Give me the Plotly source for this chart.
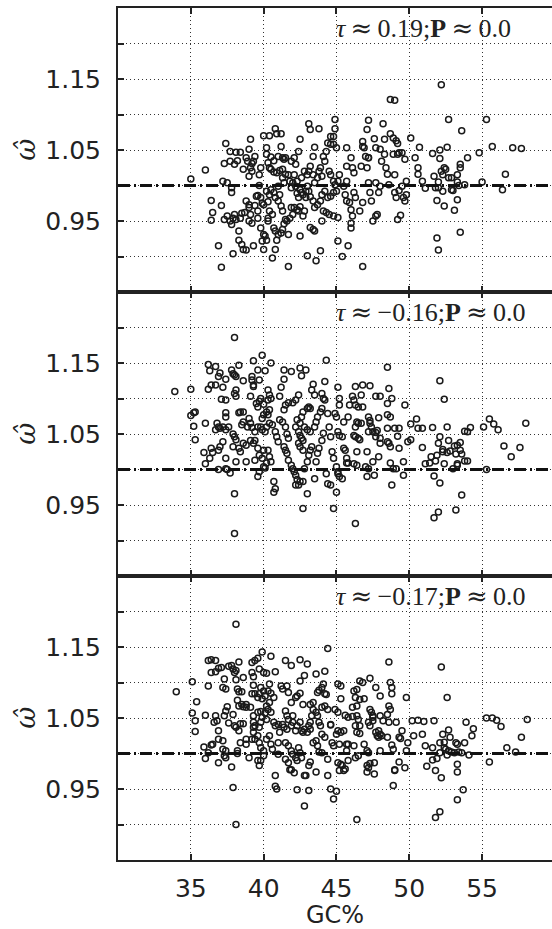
import plotly.graph_objects as go
from plotly.subplots import make_subplots

# (GC%, omega-hat) readings for each panel
panel1 = [(35.0,1.009),(36.0,1.022),(36.4,0.979),(36.5,0.962),(36.4,0.951),(37.1,0.972),(36.9,0.915),(37.1,0.885),(37.2,1.006),(37.4,1.059),
(37.3,1.031),(37.7,1.048),(37.5,1.004),(37.8,0.997),(37.8,0.990),(37.3,0.952),(37.5,0.957),(37.7,0.950),(37.9,0.954),(38.0,0.959),
(37.8,0.945),(38.1,0.952),(38.4,0.954),(37.9,0.904),(38.3,0.936),(38.3,0.923),(38.5,0.917),(38.6,0.910),(38.8,0.909),(38.5,0.961),
(38.7,0.962),(38.8,0.978),(39.0,0.973),(39.0,0.969),(39.1,0.959),(39.0,0.950),(39.2,0.947),(39.0,1.013),(38.2,1.035),(38.0,1.030),
(37.7,1.034),(38.1,1.047),(38.4,1.047),(38.6,1.023),(38.8,1.039),(38.9,1.034),(39.1,1.065),(39.0,1.051),(39.1,1.025),(39.2,1.020),
(39.2,1.031),(39.3,1.034),(39.3,0.915),(39.4,1.041),(39.4,0.972),(39.5,0.985),(39.6,0.964),(39.7,1.015),(39.7,1.000),(39.8,1.025),
(39.6,0.954),(39.8,0.940),(39.9,0.922),(40.0,0.931),(40.1,0.929),(40.0,0.910),(40.2,0.923),(40.3,0.950),(40.3,0.954),(40.4,0.964),
(40.6,0.959),(40.6,0.898),(40.8,0.910),(40.9,0.923),(40.8,0.936),(40.7,0.940),(41.0,0.931),(41.2,0.933),(41.3,0.938),(41.4,0.946),
(41.7,0.886),(41.7,0.931),(41.5,0.952),(41.6,0.950),(41.8,0.954),(42.0,0.959),(41.9,0.969),(41.3,0.964),(41.2,0.971),(41.0,0.978),
(41.1,0.987),(41.0,0.999),(40.8,0.983),(40.7,0.990),(40.5,0.994),(40.4,0.987),(40.2,0.992),(40.3,0.977),(40.0,0.973),(39.9,0.975),
(39.8,0.983),(39.6,0.986),(40.0,1.070),(40.4,1.070),(40.5,1.040),(40.7,1.035),(40.8,1.080),(40.9,1.073),(41.2,1.073),(41.2,1.055),
(41.0,1.041),(41.3,1.039),(41.4,1.037),(41.5,1.039),(40.3,1.032),(40.2,1.044),(40.2,1.053),(40.4,1.025),(40.5,1.023),(40.7,1.019),
(40.9,1.018),(41.1,1.021),(41.3,1.023),(41.3,1.011),(41.4,1.004),(41.5,1.016),(41.7,1.015),(41.8,1.006),(41.9,0.997),(42.0,1.004),
(42.2,0.999),(42.3,0.989),(42.4,0.983),(42.5,0.994),(42.6,0.990),(42.7,0.987),(42.9,0.992),(43.0,0.999),(42.1,0.969),(42.3,0.966),
(42.4,0.964),(42.5,0.970),(42.7,0.957),(42.8,0.964),(42.5,0.929),(43.0,0.901),(43.2,0.941),(43.4,0.938),(43.5,0.936),(43.6,0.894),
(43.9,0.908),(44.0,0.950),(44.1,0.964),(44.3,0.962),(44.5,0.959),(44.8,0.957),(45.1,0.955),(45.1,0.922),(45.4,0.900),(45.8,0.915),
(43.1,1.087),(43.2,1.079),(43.8,1.080),(43.5,1.054),(43.4,1.041),(43.2,1.027),(43.1,1.020),(43.0,1.015),(42.8,1.020),(42.6,1.011),
(42.5,1.065),(42.4,1.048),(42.2,1.030),(42.1,1.039),(41.9,1.034),(42.1,1.015),(42.3,1.006),(43.4,1.015),(43.5,1.004),(43.7,1.011),
(43.8,1.020),(43.9,1.025),(44.0,1.013),(44.1,1.041),(44.2,1.034),(44.3,1.048),(44.4,1.060),(44.6,1.069),(44.8,1.069),(44.9,1.093),
(44.9,1.080),(44.6,1.058),(44.8,1.058),(45.0,1.053),(44.5,1.020),(44.6,1.015),(44.8,1.006),(44.9,1.001),(45.0,0.992),(44.8,0.990),
(44.6,0.985),(44.4,0.983),(44.2,0.992),(44.0,0.987),(43.9,0.978),(43.7,0.973),(43.5,0.969),(43.4,0.978),(43.2,0.984),(43.1,0.992),
(42.9,0.983),(45.1,1.006),(45.2,1.015),(45.5,0.999),(45.6,0.987),(45.7,1.006),(45.7,0.978),(45.9,0.976),(46.0,0.966),(46.0,0.947),
(46.1,0.957),(46.0,0.940),(45.7,1.053),(46.0,1.039),(45.7,1.027),(46.1,1.025),(46.2,1.018),(46.2,0.990),(46.3,0.983),(46.6,0.964),
(46.8,0.976),(46.8,0.886),(46.8,1.062),(46.8,1.055),(46.9,1.053),(47.0,1.041),(47.2,1.039),(47.1,1.079),(47.2,1.092),(47.2,1.039),
(46.7,1.027),(47.1,1.025),(47.2,1.004),(47.3,0.990),(47.4,0.978),(47.5,0.950),(47.7,0.957),(47.8,0.959),(47.9,0.990),(48.0,0.999),
(47.6,1.066),(47.7,1.053),(47.7,1.004),(48.0,1.051),(48.1,1.034),(48.2,1.087),(48.3,1.065),(48.3,1.044),(48.4,1.025),(48.5,1.016),
(48.6,1.001),(48.7,1.121),(49.0,1.120),(48.7,1.073),(48.9,1.067),(49.1,1.063),(49.2,1.059),(49.3,1.046),(49.5,1.046),(49.2,1.044),
(48.9,1.044),(49.0,1.015),(49.0,0.990),(49.1,0.983),(49.3,0.993),(49.5,0.999),(49.6,0.983),(49.7,0.978),(49.8,0.987),(49.2,0.952),
(49.4,0.958),(49.7,1.037),(50.1,1.067),(49.8,1.006),(50.4,1.039),(50.6,1.025),(50.7,1.054),(50.6,1.016),(50.9,1.006),(51.1,0.996),
(51.6,1.045),(51.7,1.013),(51.8,0.997),(51.9,0.979),(52.0,1.005),(52.0,0.997),(52.1,1.050),(52.1,1.038),(52.2,1.142),(52.2,1.020),
(52.3,1.015),(52.3,0.992),(52.4,0.971),(52.4,1.025),(52.5,1.023),(52.6,1.054),(52.7,1.093),(52.7,1.011),(52.9,1.011),(52.9,0.994),
(53.0,0.993),(53.1,0.965),(53.3,0.980),(53.3,1.005),(53.3,1.015),(53.4,1.000),(53.5,1.025),(53.5,1.030),(53.6,1.077),(53.5,0.934),
(51.9,0.926),(52.0,0.909),(53.8,1.001),(54.0,1.039),(54.8,1.046),(55.0,1.005),(55.3,1.093),(55.7,1.055),(56.4,0.994),(56.6,1.016),
(57.1,1.053),(57.7,1.052)]

panel2 = [(33.9,1.110),(35.0,1.113),(35.0,1.076),(35.2,1.080),(35.3,1.081),(35.2,1.061),(35.3,1.042),(35.9,1.024),(36.0,1.008),(36.0,1.065),
(36.2,1.148),(36.3,1.139),(36.7,1.145),(37.0,1.136),(36.9,1.131),(36.7,1.119),(36.4,1.119),(36.2,1.113),(36.4,1.030),(36.5,1.024),
(36.3,1.016),(36.9,1.000),(36.8,1.065),(36.7,1.056),(36.9,1.060),(37.0,1.058),(37.2,1.060),(37.2,1.116),(37.1,1.099),(37.4,1.098),
(37.4,1.127),(37.4,1.080),(37.4,1.074),(37.6,1.060),(37.4,1.056),(37.2,1.039),(37.0,1.032),(36.9,1.027),(37.4,1.016),(37.4,1.001),
(37.5,1.000),(37.7,0.995),(37.8,1.140),(37.9,1.135),(38.0,1.133),(38.1,1.131),(38.3,1.147),(38.0,1.186),(38.1,1.112),(38.0,1.107),
(38.1,1.103),(38.3,1.080),(38.4,1.081),(38.6,1.125),(38.6,1.081),(38.5,1.063),(38.6,1.067),(37.9,1.050),(38.0,1.046),(38.1,1.042),
(37.9,1.032),(38.3,1.030),(38.4,1.025),(38.1,1.011),(38.0,0.966),(38.0,0.910),(38.6,1.037),(38.8,1.034),(38.8,1.011),(38.9,1.060),
(39.0,1.072),(39.1,1.103),(39.2,1.131),(39.2,1.126),(39.3,1.119),(39.3,1.117),(39.3,1.153),(39.6,1.140),(39.7,1.126),(39.8,1.100),
(39.7,1.096),(39.5,1.093),(39.6,1.088),(39.9,1.161),(40.1,1.139),(40.5,1.150),(40.3,1.112),(40.4,1.105),(40.5,1.100),(40.3,1.098),
(40.0,1.092),(40.2,1.081),(39.9,1.072),(40.0,1.077),(40.4,1.084),(40.3,1.077),(39.1,1.065),(39.2,1.059),(39.4,1.053),(39.6,1.060),
(39.8,1.060),(39.9,1.056),(40.1,1.053),(40.2,1.060),(40.4,1.065),(40.6,1.063),(39.1,1.041),(39.3,1.037),(39.4,1.041),(39.6,1.030),
(39.7,1.020),(39.9,1.016),(40.0,1.027),(40.3,1.027),(40.4,1.018),(40.5,1.011),(39.4,1.013),(39.6,0.990),(39.7,0.997),(40.0,1.004),
(40.1,1.002),(40.2,1.009),(40.7,0.983),(40.8,0.973),(40.7,0.968),(40.8,1.053),(40.9,1.046),(41.0,1.039),(41.1,1.070),(41.3,1.067),
(41.2,1.116),(41.4,1.127),(41.4,1.140),(41.1,1.103),(41.4,1.084),(41.5,1.091),(41.7,1.094),(41.9,1.138),(42.0,1.094),(42.2,1.098),
(42.4,1.105),(42.5,1.143),(42.6,1.132),(42.9,1.140),(42.7,1.081),(43.0,1.086),(43.1,1.088),(43.2,1.086),(43.3,1.112),(43.4,1.120),
(43.5,1.105),(41.5,1.060),(41.6,1.050),(41.7,1.044),(41.4,1.032),(41.5,1.027),(41.6,1.023),(41.7,1.013),(41.9,1.006),(42.0,1.001),
(42.1,0.997),(42.2,0.992),(42.3,0.986),(42.4,0.978),(42.2,0.978),(42.5,0.983),(42.7,0.983),(42.8,1.001),(43.0,1.011),(43.1,1.020),
(43.2,1.027),(43.3,1.032),(42.7,0.945),(43.0,0.966),(43.5,0.987),(43.6,1.011),(43.7,1.023),(43.8,1.030),(42.2,1.060),(42.4,1.053),
(42.5,1.048),(42.6,1.044),(42.7,1.041),(42.4,1.037),(42.5,1.032),(42.7,1.027),(42.3,1.070),(42.5,1.065),(42.6,1.074),(42.8,1.060),
(43.0,1.056),(43.2,1.053),(43.5,1.060),(43.6,1.067),(43.7,1.074),(43.9,1.081),(44.0,1.086),(44.1,1.100),(44.2,1.098),(44.0,1.107),
(44.3,1.154),(44.2,1.124),(44.4,1.079),(44.5,1.060),(44.6,1.046),(44.1,1.051),(44.0,1.041),(44.7,1.025),(44.8,1.016),(45.0,1.004),
(45.1,0.997),(45.1,0.994),(45.2,0.990),(45.4,0.987),(44.3,0.994),(44.4,0.980),(44.6,0.978),(44.8,0.945),(45.0,0.968),(44.9,1.079),
(45.0,1.074),(45.1,1.116),(45.2,1.100),(45.2,1.091),(45.1,1.053),(45.2,1.048),(45.4,1.046),(45.5,1.067),(45.5,1.030),(45.6,1.027),
(45.7,1.016),(45.8,1.074),(45.9,1.091),(46.1,1.103),(46.2,1.098),(46.3,1.117),(46.3,1.091),(46.5,1.088),(46.8,1.119),(46.7,1.105),
(46.8,1.088),(45.8,1.009),(45.7,1.009),(46.2,1.048),(46.3,1.060),(46.3,1.046),(46.4,1.067),(46.5,1.065),(46.7,1.065),(46.2,1.008),
(46.4,1.006),(46.4,1.025),(46.5,1.044),(46.6,1.042),(46.3,0.924),(47.0,1.004),(47.1,0.990),(47.2,1.001),(47.1,1.025),(47.3,1.118),
(47.2,1.074),(47.3,1.069),(47.3,1.065),(47.4,1.060),(47.2,1.053),(47.5,1.053),(47.7,1.046),(47.7,1.052),(47.8,1.055),(47.9,1.073),
(47.5,1.011),(47.9,1.018),(47.6,0.992),(47.7,1.103),(48.0,1.103),(48.0,1.037),(48.0,1.044),(48.5,1.144),(48.5,1.093),(48.5,1.077),
(48.6,1.114),(48.8,1.100),(48.7,1.074),(48.5,1.058),(48.5,1.039),(48.6,1.037),(48.7,1.032),(48.7,1.009),(48.9,1.001),(49.1,1.001),
(48.8,0.978),(49.0,1.058),(49.2,1.047),(49.3,1.030),(49.3,1.058),(49.6,1.011),(49.6,0.992),(49.7,1.091),(49.9,1.039),(50.1,1.042),
(50.1,1.064),(50.5,1.071),(50.6,1.058),(50.9,1.031),(50.9,1.058),(51.1,1.008),(51.4,1.009),(51.5,1.018),(51.6,1.059),(51.7,0.932),
(51.7,0.991),(51.8,1.012),(51.9,1.020),(52.0,1.037),(52.0,0.940),(52.1,0.981),(52.1,1.125),(52.1,1.046),(52.3,1.028),(52.3,1.025),
(52.4,1.099),(52.4,1.008),(52.6,1.060),(52.6,1.024),(52.7,1.041),(52.8,1.026),(53.0,1.001),(53.1,1.033),(53.2,0.943),(53.2,1.022),
(53.3,1.008),(53.3,1.034),(53.3,1.006),(53.5,1.038),(53.5,1.027),(53.6,0.964),(53.6,1.022),(53.8,1.054),(53.8,1.012),(54.0,1.012),
(54.0,1.053),(54.2,1.059),(55.1,1.060),(55.3,1.000),(55.5,1.071),(55.8,1.064),(56.1,1.056),(56.5,1.033),(57.0,1.018),(57.6,1.031),
(58.0,1.065)]

panel3 = [(34.0,1.087),(35.1,1.101),(35.4,1.073),(35.1,1.057),(35.3,1.046),(35.3,1.031),(36.0,1.054),(35.9,1.009),(36.0,0.993),(36.2,1.131),
(36.4,1.132),(36.7,1.131),(36.4,1.114),(36.7,1.115),(36.9,1.120),(37.1,1.121),(36.2,1.095),(36.4,1.012),(36.5,1.013),(36.2,1.001),
(36.7,1.053),(36.6,1.044),(36.8,1.046),(36.9,1.032),(36.9,1.020),(36.9,0.987),(37.2,1.093),(37.4,1.091),(37.3,1.105),(37.4,1.060),
(37.5,1.066),(37.3,1.053),(37.6,1.043),(37.2,1.018),(37.2,1.006),(37.4,1.004),(37.4,0.994),(37.3,0.997),(37.8,0.981),(37.6,1.123),
(37.8,1.124),(37.9,1.119),(38.0,1.114),(38.1,1.117),(38.3,1.129),(38.1,1.182),(38.1,1.104),(38.2,1.091),(38.3,1.087),(38.5,1.087),
(38.6,1.107),(37.9,1.055),(38.0,1.039),(38.1,1.037),(38.3,1.032),(38.4,1.042),(38.6,1.042),(38.2,1.075),(38.3,1.067),(38.5,1.069),
(38.6,1.066),(38.8,1.065),(38.8,1.069),(39.1,1.065),(38.8,1.020),(38.8,1.013),(38.4,1.015),(38.2,1.004),(38.2,1.000),(39.0,0.994),
(37.9,0.952),(38.1,0.900),(39.2,1.114),(39.3,1.108),(39.2,1.128),(39.4,1.131),(39.6,1.134),(39.7,1.119),(39.9,1.143),(40.0,1.114),
(40.2,1.113),(40.5,1.137),(39.3,1.096),(39.2,1.084),(39.4,1.084),(39.6,1.079),(39.7,1.084),(39.8,1.093),(40.0,1.088),(40.1,1.081),
(39.9,1.077),(40.3,1.088),(40.4,1.098),(40.5,1.085),(40.7,1.079),(40.4,1.072),(40.2,1.067),(40.3,1.062),(40.5,1.058),(39.6,1.058),
(39.8,1.059),(39.9,1.051),(40.1,1.057),(40.2,1.048),(39.3,1.053),(39.3,1.044),(39.3,1.037),(39.4,1.039),(39.7,1.037),(39.8,1.044),
(39.3,1.030),(39.2,1.020),(39.4,1.020),(39.6,1.025),(39.7,1.015),(39.8,1.008),(39.6,0.990),(39.7,0.983),(39.8,0.990),(40.0,1.004),
(40.0,0.997),(40.2,1.020),(40.4,1.025),(40.5,1.013),(40.6,1.006),(40.7,1.044),(40.8,1.039),(41.0,1.041),(41.1,1.030),(41.0,1.015),
(41.0,0.999),(40.8,0.969),(40.8,0.954),(40.9,0.950),(40.8,1.115),(41.2,1.095),(41.3,1.091),(41.6,1.095),(41.5,1.131),(41.9,1.124),
(42.5,1.132),(43.0,1.126),(42.8,1.110),(42.5,1.102),(43.6,1.112),(41.7,1.086),(41.9,1.072),(42.2,1.079),(42.3,1.081),(42.5,1.085),
(42.7,1.069),(41.5,1.060),(41.6,1.053),(41.7,1.048),(42.0,1.053),(41.3,1.041),(41.4,1.037),(41.6,1.034),(41.9,1.039),(42.0,1.044),
(42.2,1.032),(42.3,1.039),(42.5,1.044),(42.6,1.032),(42.7,1.030),(42.8,1.034),(43.0,1.030),(43.1,1.039),(43.2,1.034),(41.5,1.015),
(41.7,1.011),(41.9,1.004),(42.0,0.999),(42.2,0.994),(42.3,0.990),(41.5,0.992),(41.7,0.987),(41.8,0.977),(41.9,0.977),(42.1,0.973),
(42.4,1.008),(42.5,1.001),(42.6,0.994),(42.8,0.969),(42.9,0.969),(43.2,0.988),(43.1,0.983),(42.8,0.926),(43.1,0.948),(42.3,0.949),
(43.6,1.018),(43.4,1.015),(43.7,1.011),(43.8,1.002),(44.0,1.001),(43.6,0.974),(43.2,1.044),(43.3,1.053),(43.4,1.062),(43.6,1.058),
(43.7,1.053),(43.8,1.044),(43.9,1.039),(44.0,1.027),(44.2,1.023),(43.2,1.069),(43.4,1.072),(43.7,1.086),(43.8,1.089),(44.0,1.093),
(44.1,1.098),(44.2,1.116),(44.2,1.084),(44.3,1.083),(44.4,1.148),(44.0,1.065),(44.2,1.067),(44.4,1.062),(44.6,1.041),(44.7,1.015),
(44.8,1.011),(44.6,1.040),(44.4,0.992),(44.4,0.969),(44.6,0.950),(44.8,0.936),(44.9,1.062),(45.1,1.058),(45.1,1.098),(45.3,1.095),
(45.3,1.077),(45.1,1.032),(45.3,1.030),(45.5,1.032),(45.0,1.027),(45.2,1.013),(45.6,1.054),(45.8,1.051),(45.7,1.013),(45.8,1.013),
(45.1,0.987),(45.3,0.985),(45.4,0.983),(45.5,0.976),(45.6,0.978),(45.2,0.976),(45.0,0.947),(45.7,1.004),(45.8,0.990),(46.1,1.065),
(46.2,1.088),(46.4,1.090),(46.3,1.079),(46.4,1.067),(46.6,1.076),(46.6,1.102),(46.8,1.100),(46.9,1.077),(47.3,1.106),(47.7,1.093),
(46.4,0.907),(46.4,1.053),(46.5,1.048),(46.6,1.039),(46.3,1.039),(46.4,1.030),(46.6,1.028),(46.1,1.052),(46.2,1.011),(46.3,0.994),
(46.5,0.997),(46.9,1.013),(47.1,1.004),(47.2,1.001),(47.1,0.983),(47.2,0.980),(47.1,0.974),(47.3,0.986),(47.6,0.987),(47.6,0.971),
(47.3,1.062),(47.4,1.058),(47.5,1.051),(47.5,1.053),(47.5,1.046),(47.2,1.044),(47.3,1.039),(47.7,1.030),(47.8,1.025),(47.9,1.032),
(48.0,1.027),(48.1,1.025),(48.0,1.004),(47.9,1.023),(48.0,1.053),(48.2,1.046),(48.0,1.081),(48.6,1.129),(48.7,1.100),(48.8,1.093),
(48.8,1.084),(48.5,1.055),(48.6,1.067),(48.7,1.062),(48.6,1.044),(49.1,1.044),(48.5,1.023),(48.8,1.012),(48.9,1.006),(49.0,0.976),
(49.0,0.977),(48.9,0.955),(49.3,0.988),(49.3,1.023),(49.4,1.021),(49.5,1.032),(49.7,0.980),(49.8,1.004),(49.8,1.079),(49.9,1.015),
(50.2,1.046),(50.3,1.025),(50.6,1.047),(50.9,1.027),(51.0,1.045),(51.1,1.011),(51.2,0.982),(51.6,1.008),(51.6,0.991),(51.7,1.046),
(51.8,0.910),(51.8,0.976),(51.9,0.993),(52.1,1.001),(52.1,1.015),(52.1,0.918),(52.2,1.122),(52.2,0.966),(52.3,1.027),(52.4,1.016),
(52.4,1.008),(52.5,1.006),(52.6,1.079),(52.6,0.998),(52.7,1.033),(52.7,1.004),(52.8,1.023),(52.9,1.002),(53.1,1.001),(53.2,1.015),
(53.3,0.935),(53.3,0.985),(53.3,0.974),(53.3,1.013),(53.4,1.002),(53.6,1.001),(53.7,0.949),(53.8,1.015),(53.9,1.044),(54.1,0.998),
(54.3,1.025),(54.4,1.035),(55.3,1.050),(55.5,0.988),(55.7,1.050),(56.0,1.047),(56.3,1.038),(56.7,1.008),(57.3,1.002),(57.7,1.023),
(58.1,1.048)]

tau_labels = ["0.19", "\u22120.16", "\u22120.17"]
p_labels = ["0.0", "0.0", "0.0"]
x_ticks = [35, 40, 45, 50, 55]
y_ticks = [0.95, 1.05, 1.15]
y_minor = [0.90, 1.00, 1.10, 1.20]

INK = "#222222"
tick_font = dict(family="DejaVu Sans", size=25, color=INK)
APPROX = "<span style='font-family:DejaVu Serif'>\u2248</span>"

fig = make_subplots(rows=3, cols=1, shared_xaxes=True, vertical_spacing=0)

for i, pts in enumerate([panel1, panel2, panel3], start=1):
    gc, w = zip(*pts)
    fig.add_trace(go.Scatter(
        x=list(gc), y=list(w), mode="markers",
        marker=dict(symbol="circle-open", size=6, color="#1a1a1a", line=dict(width=1.5)),
        showlegend=False, hoverinfo="skip"), row=i, col=1)
    fig.add_hline(y=1.0, line=dict(color="#111111", width=3, dash="12px,4px,2px,4px"),
                  layer="above", row=i, col=1)
    fig.update_xaxes(
        row=i, col=1, range=[30, 59.8], tickmode="array", tickvals=x_ticks,
        showgrid=True, gridcolor="#333333", gridwidth=1, griddash="1px,3px",
        ticks="inside", ticklen=6, tickwidth=1.5, tickcolor=INK,
        showline=True, linecolor=INK, linewidth=2, mirror="ticks",
        showticklabels=(i == 3), tickfont=tick_font, zeroline=False,
        ticklabelstandoff=5)
    fig.update_yaxes(
        row=i, col=1, range=[0.85, 1.25], tickmode="array", tickvals=y_ticks,
        ticktext=[f"{v:.2f}" for v in y_ticks],
        showgrid=True, gridcolor="#333333", gridwidth=1, griddash="1px,3px",
        minor=dict(tickmode="array", tickvals=y_minor, showgrid=True,
                   gridcolor="#333333", gridwidth=1, griddash="1px,3px",
                   ticks="inside", ticklen=6, tickcolor=INK),
        ticks="inside", ticklen=6, tickwidth=1.5, tickcolor=INK,
        showline=True, linecolor=INK, linewidth=2, mirror=False,
        tickfont=tick_font, zeroline=False, ticklabelstandoff=10)
    xr = "x" if i == 1 else f"x{i}"
    yr = "y" if i == 1 else f"y{i}"
    # rotated y-axis label (omega hat)
    fig.add_annotation(
        x=-0.215, y=1.05, xref="paper", yref=yr, xanchor="center", yanchor="middle",
        showarrow=False, textangle=-90, text="\u03c9\u0302",
        font=dict(family="DejaVu Serif", size=27, color=INK, style="italic"))
    fig.add_annotation(
        x=44.8, y=1.222, xref=xr, yref=yr, xanchor="left", yanchor="middle",
        showarrow=False,
        text=(f"<i>\u03c4</i>\u2009{APPROX}\u2009{tau_labels[i-1]};"
              f"<b>P</b>\u2009{APPROX}\u2009{p_labels[i-1]}"),
        font=dict(family="Liberation Serif", size=26, color=INK))

fig.update_xaxes(row=3, col=1, title=dict(text="GC%", standoff=8,
                 font=dict(family="DejaVu Sans", size=24, color=INK)))

fig.update_layout(
    width=552, height=929,
    margin=dict(l=118, r=0, t=8, b=69),
    paper_bgcolor="white", plot_bgcolor="white",
)

fig.write_html("out.html")
